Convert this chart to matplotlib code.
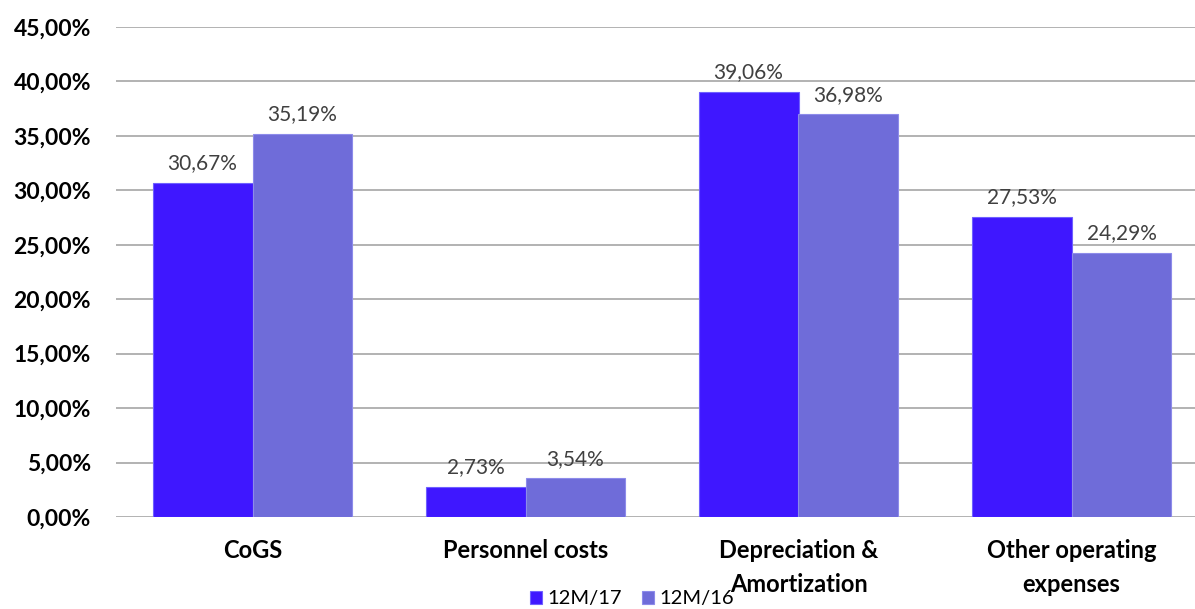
import matplotlib
matplotlib.use("Agg")
import matplotlib.pyplot as plt
import numpy as np

categories = ["CoGS", "Personnel costs", "Depreciation &\nAmortization", "Other operating\nexpenses"]
series_names = ["12M/17", "12M/16"]
values_17 = [30.67, 2.73, 39.06, 27.53]
values_16 = [35.19, 3.54, 36.98, 24.29]
yticks = [0, 5, 10, 15, 20, 25, 30, 35, 40, 45]

plt.rcParams['font.family'] = ['Lato', 'DejaVu Sans']

fig = plt.figure(figsize=(11.95, 6.09), dpi=100)
ax = fig.add_axes([116/1195, 92/609, 1092/1195, 490/609])

x = np.arange(len(categories))
w = 0.366
c17 = "#3F17FF"
c16 = "#6F6CD9"
b1 = ax.bar(x - w/2, values_17, width=w, color=c17, edgecolor="#6F60FF", linewidth=0.8, label=series_names[0], zorder=3)
b2 = ax.bar(x + w/2, values_16, width=w, color=c16, edgecolor="#8D8BEA", linewidth=0.8, label=series_names[1], zorder=3)

def fmt(v):
    return f"{v:.2f}".replace(".", ",") + "%"

for bars, vals in ((b1, values_17), (b2, values_16)):
    for rect, v in zip(bars, vals):
        ax.annotate(fmt(v), (rect.get_x() + rect.get_width()/2, v),
                    xytext=(0, 7), textcoords="offset points",
                    ha="center", va="bottom", fontsize=15, color="#404040")

ax.set_xlim(-0.5, len(categories) - 0.5)
ax.set_ylim(0, 45)
ax.set_yticks(yticks)
ax.set_yticklabels([f"{t:.2f}".replace(".", ",") + "%" for t in yticks],
                   fontsize=16.5, fontweight="bold", color="#000000")
ax.set_xticks(x)
ax.set_xticklabels(categories, fontsize=17, fontweight="bold", color="#000000", linespacing=1.55)
ax.tick_params(axis="both", length=0)
ax.tick_params(axis="y", pad=18)
ax.tick_params(axis="x", pad=16)
ax.grid(axis="y", color="#A6A6A6", linewidth=1.2, zorder=0)
for s in ax.spines.values():
    s.set_visible(False)

leg = fig.legend(handles=[b1, b2], labels=series_names, loc="lower center",
                 bbox_to_anchor=(632/1195, -0.027), ncol=2, frameon=False,
                 fontsize=14.5, handlelength=0.6, handleheight=0.6, handletextpad=0.25,
                 columnspacing=1.0)
for t in leg.get_texts():
    t.set_color("#000000")

fig.savefig("out.png", dpi=100)
